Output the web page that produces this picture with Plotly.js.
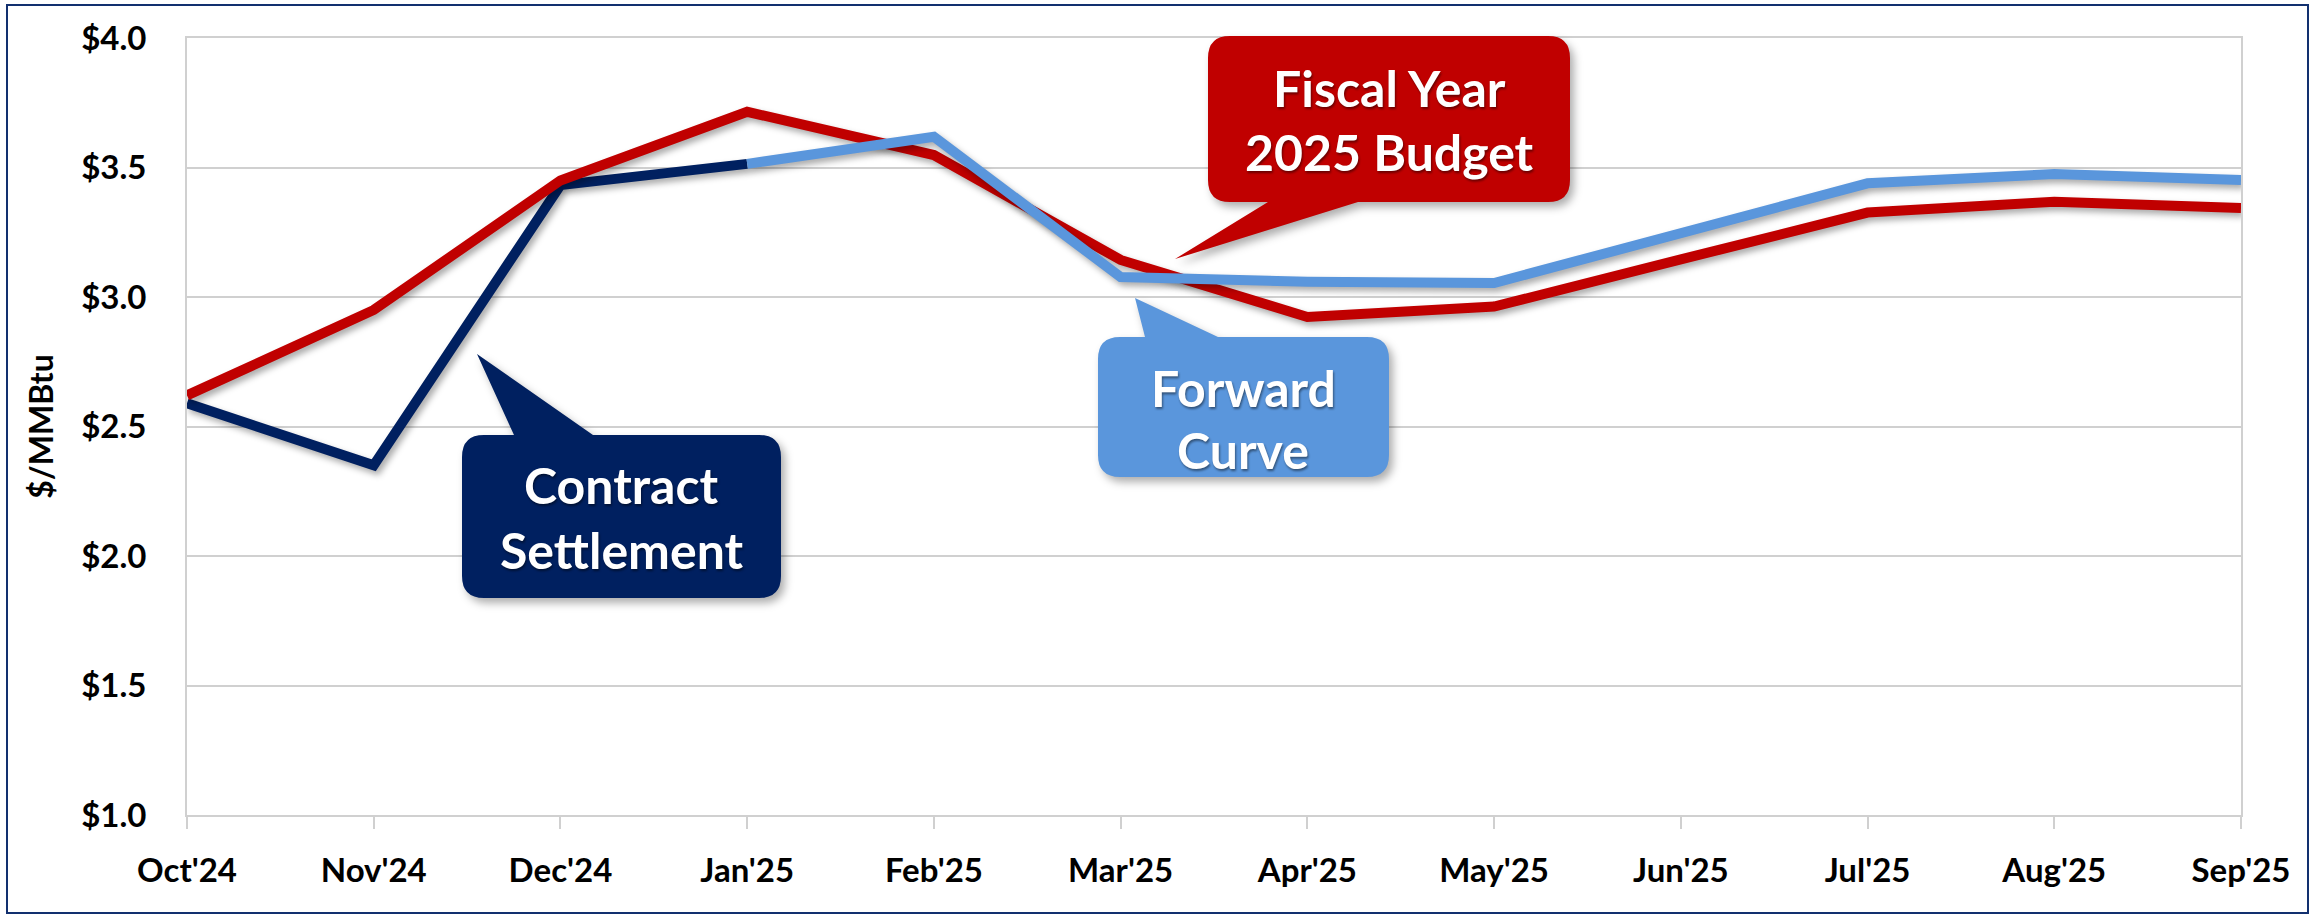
<!DOCTYPE html>
<html>
<head>
<meta charset="utf-8">
<script src="https://cdn.plot.ly/plotly-3.0.1.min.js"></script>
<style>
html,body{margin:0;padding:0;background:#fff;}
#wrap{position:relative;width:2323px;height:919px;overflow:hidden;}
#chart{position:absolute;left:0;top:0;width:2323px;height:919px;}
#frame{position:absolute;left:6px;top:4px;width:2299px;height:906px;border:2px solid #12306F;pointer-events:none;}
.scatterlayer .js-line{filter:drop-shadow(3px 4px 3px rgba(0,0,0,0.33));}
.shapelayer path{filter:drop-shadow(4px 5px 4px rgba(0,0,0,0.32));}
.annotation-text{filter:drop-shadow(1px 2px 1px rgba(0,0,0,0.45));}
</style>
</head>
<body>
<div id="wrap"><div id="chart"></div><div id="frame"></div></div>
<script>
// ---- data ----
const months = ["Oct'24","Nov'24","Dec'24","Jan'25","Feb'25","Mar'25","Apr'25","May'25","Jun'25","Jul'25","Aug'25","Sep'25"];
const budgetMonths = months;
const budget = [2.62, 2.95, 3.45, 3.715, 3.548, 3.143, 2.923, 2.963, 3.145, 3.326, 3.368, 3.344];
const contractMonths = ["Oct'24","Nov'24","Dec'24","Jan'25"];
const contract = [2.59, 2.35, 3.432, 3.514];
const forwardMonths = ["Jan'25","Feb'25","Mar'25","Apr'25","May'25","Jun'25","Jul'25","Aug'25","Sep'25"];
const forward = [3.514, 3.619, 3.077, 3.059, 3.054, 3.247, 3.439, 3.475, 3.452];
const yTicks = [1.0, 1.5, 2.0, 2.5, 3.0, 3.5, 4.0];
const yTickLabels = ["$1.0", "$1.5", "$2.0", "$2.5", "$3.0", "$3.5", "$4.0"];

const idx = m => months.indexOf(m);
const tickIdx = months.map((m, i) => i);

const RED = '#C00000', NAVY = '#002060', LIGHT = '#5A96DC';
const GRID = '#D0D0D0';
const FONT = 'Lato, "Open Sans", sans-serif';

// plot-area in pixels, for placing callouts
const L = 187, R = 2241, T = 38, B = 815;
const W = R - L, H = B - T;
const px = x => ((x - L) / W).toFixed(5);
const py = y => ((B - y) / H).toFixed(5);

function callout(x0, y0, x1, y1, r, p) {
  const P = (x, y) => px(x) + ',' + py(y);
  let d = 'M' + P(x0 + r, y0);
  if (p.side === 'top') {
    d += ' L' + P(p.a, y0) + ' L' + P(p.tx, p.ty) + ' L' + P(p.c, y0);
  }
  d += ' L' + P(x1 - r, y0) + ' Q' + P(x1, y0) + ' ' + P(x1, y0 + r);
  d += ' L' + P(x1, y1 - r) + ' Q' + P(x1, y1) + ' ' + P(x1 - r, y1);
  if (p.side === 'bottom') {
    d += ' L' + P(p.c, y1) + ' L' + P(p.tx, p.ty) + ' L' + P(p.a, y1);
  }
  d += ' L' + P(x0 + r, y1) + ' Q' + P(x0, y1) + ' ' + P(x0, y1 - r);
  d += ' L' + P(x0, y0 + r) + ' Q' + P(x0, y0) + ' ' + P(x0 + r, y0) + ' Z';
  return d;
}

const callouts = [
  {color: RED, box: [1208, 36, 1570, 202], ptr: {side: 'bottom', a: 1268, c: 1358, tx: 1175, ty: 259},
   lines: [["Fiscal Year", 88], ["2025 Budget", 152]]},
  {color: NAVY, box: [462, 435, 781, 598], ptr: {side: 'top', a: 514, c: 593, tx: 477, ty: 354},
   lines: [["Contract", 485], ["Settlement", 550]]},
  {color: LIGHT, box: [1098, 337, 1389, 477], ptr: {side: 'top', a: 1145, c: 1218, tx: 1135, ty: 298},
   lines: [["Forward", 388], ["Curve", 450]]}
];

const shapes = callouts.map(c => ({
  type: 'path', xref: 'paper', yref: 'paper', layer: 'above',
  path: callout(c.box[0], c.box[1], c.box[2], c.box[3], 22, c.ptr),
  fillcolor: c.color, line: {width: 0}
}));

const annotations = [];
callouts.forEach(c => {
  const cx = (c.box[0] + c.box[2]) / 2;
  c.lines.forEach(([t, y]) => {
    annotations.push({
      xref: 'paper', yref: 'paper', x: +px(cx), y: +py(y),
      xanchor: 'center', yanchor: 'middle', showarrow: false, text: t,
      font: {family: FONT, size: 50, color: '#FFFFFF', weight: 700}
    });
  });
});

const lineStyle = (color) => ({color: color, width: 10, shape: 'linear'});

const traces = [
  {x: contractMonths.map(idx), y: contract, mode: 'lines', name: 'Contract Settlement', line: lineStyle(NAVY), hoverinfo: 'skip'},
  {x: budgetMonths.map(idx), y: budget, mode: 'lines', name: 'Fiscal Year 2025 Budget', line: lineStyle(RED), hoverinfo: 'skip'},
  {x: forwardMonths.map(idx), y: forward, mode: 'lines', name: 'Forward Curve', line: lineStyle(LIGHT), hoverinfo: 'skip'}
];

const tickFont = {family: FONT, size: 33, color: '#000000', weight: 700};

const layout = {
  width: 2323, height: 919,
  margin: {l: L, r: 2323 - R, t: T, b: 919 - B, pad: 0},
  paper_bgcolor: '#FFFFFF', plot_bgcolor: '#FFFFFF',
  showlegend: false,
  xaxis: {
    range: [0, months.length - 1], tickmode: 'array', tickvals: tickIdx, ticktext: months,
    ticks: 'outside', ticklen: 12, tickwidth: 2, tickcolor: GRID,
    showline: true, linecolor: GRID, linewidth: 2, mirror: true,
    showgrid: false, zeroline: false, tickfont: tickFont, ticklabelstandoff: 13, fixedrange: true
  },
  xaxis2: {
    overlaying: 'x', anchor: 'y', side: 'bottom',
    range: [0, months.length - 1], tickmode: 'array', tickvals: tickIdx,
    ticks: 'inside', ticklen: 11, tickwidth: 2, tickcolor: GRID,
    showticklabels: false, showline: false, showgrid: false, zeroline: false
  },
  yaxis: {
    range: [1, 4], tickmode: 'array', tickvals: yTicks, ticktext: yTickLabels,
    showgrid: true, gridcolor: GRID, gridwidth: 2,
    showline: true, linecolor: GRID, linewidth: 2, mirror: true,
    zeroline: false, ticks: '', tickfont: tickFont, ticklabelstandoff: 32,
    title: {text: '$/MMBtu', font: {family: FONT, size: 32, color: '#000000', weight: 700}, standoff: 18}
  },
  shapes: shapes,
  annotations: annotations
};

Plotly.newPlot('chart', traces, layout, {staticPlot: true, displayModeBar: false});
</script>
</body>
</html>
